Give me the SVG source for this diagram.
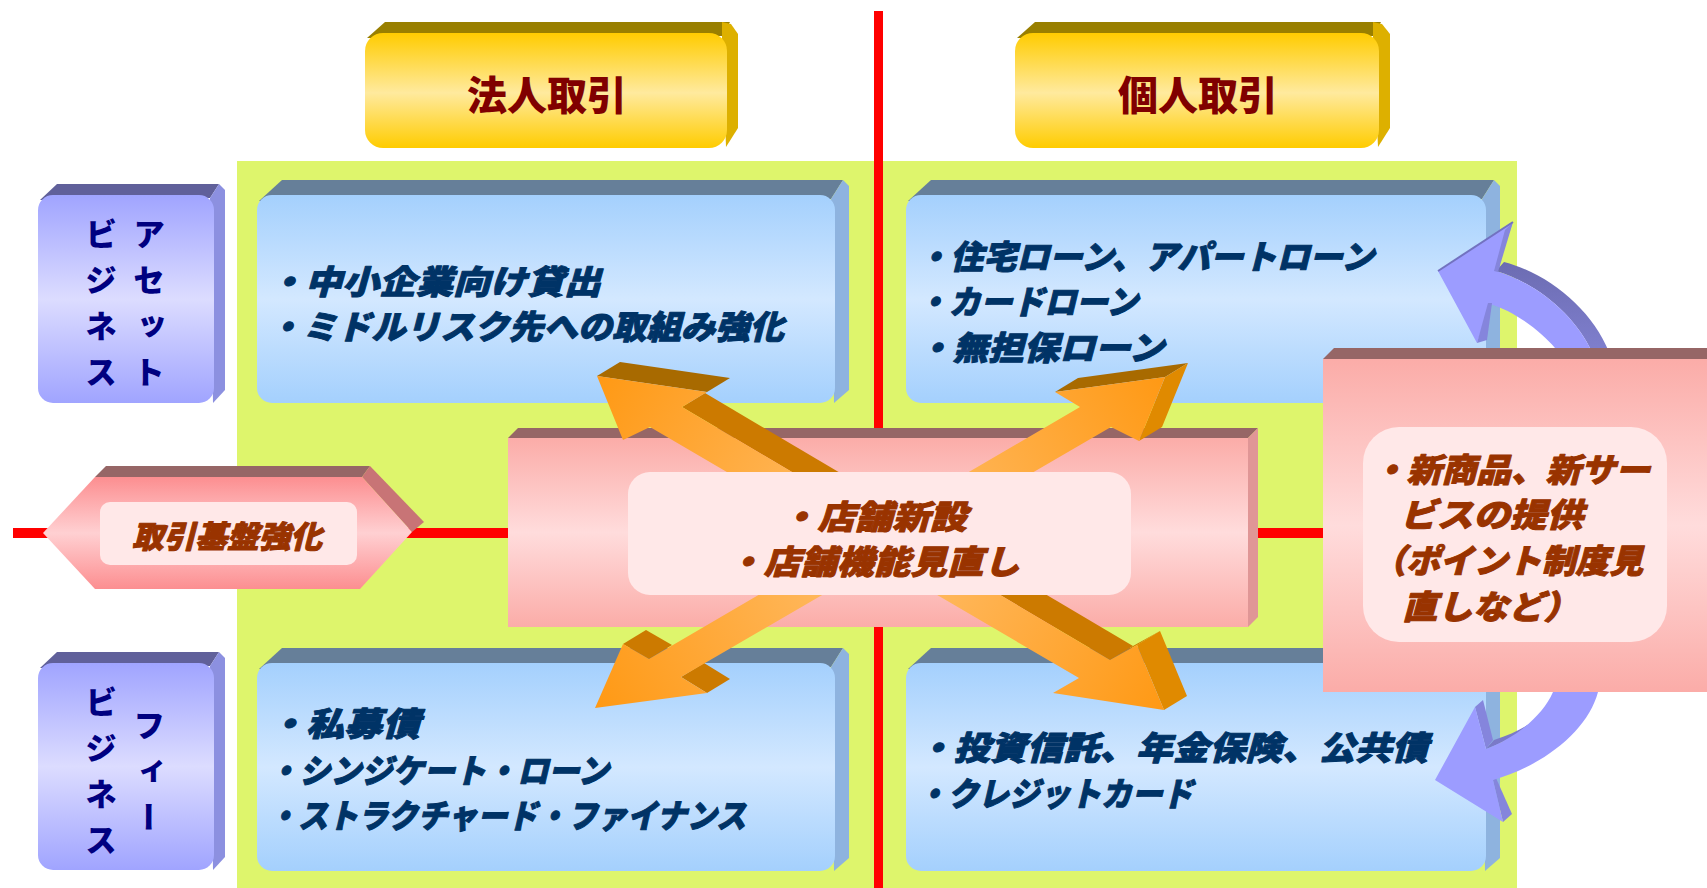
<svg xmlns="http://www.w3.org/2000/svg" width="1707" height="888" viewBox="0 0 1707 888">
<defs>
<linearGradient id="gGold" x1="0" y1="0" x2="0" y2="1"><stop offset="0" stop-color="#FFCC00"/><stop offset="0.52" stop-color="#FFEA9E"/><stop offset="1" stop-color="#FFCC00"/></linearGradient>
<linearGradient id="gBlue" x1="0" y1="0" x2="0" y2="1"><stop offset="0" stop-color="#A4D0FD"/><stop offset="0.5" stop-color="#D3E8FF"/><stop offset="1" stop-color="#A4D0FD"/></linearGradient>
<linearGradient id="gPurple" x1="0" y1="0" x2="0" y2="1"><stop offset="0" stop-color="#A0A4FF"/><stop offset="0.5" stop-color="#DCDCFF"/><stop offset="1" stop-color="#A0A4FF"/></linearGradient>
<linearGradient id="gPink" x1="0" y1="0" x2="0" y2="1"><stop offset="0" stop-color="#FBACA8"/><stop offset="0.5" stop-color="#FFDCDC"/><stop offset="1" stop-color="#FBACA8"/></linearGradient>
<linearGradient id="gHex" x1="0" y1="0" x2="0" y2="1"><stop offset="0" stop-color="#FC8E90"/><stop offset="0.5" stop-color="#FFD0D2"/><stop offset="1" stop-color="#FC8E90"/></linearGradient>
<linearGradient id="gArrowA" gradientUnits="userSpaceOnUse" x1="597" y1="376" x2="1164" y2="710"><stop offset="0" stop-color="#FF9914"/><stop offset="0.5" stop-color="#FFC070"/><stop offset="1" stop-color="#FF9914"/></linearGradient>
<linearGradient id="gArrowB" gradientUnits="userSpaceOnUse" x1="1165" y1="377" x2="595" y2="708"><stop offset="0" stop-color="#FF9914"/><stop offset="0.5" stop-color="#FFC070"/><stop offset="1" stop-color="#FF9914"/></linearGradient>
<linearGradient id="gBand" x1="0" y1="0" x2="0" y2="1"><stop offset="0" stop-color="#6C6CB2"/><stop offset="1" stop-color="#8282D2"/></linearGradient>
<style>
.jp{font-family:'Noto Sans CJK JP','Noto Sans CJK SC',sans-serif;font-weight:900}
.bt{fill:#003366;stroke:#003366;stroke-width:1;stroke-linejoin:round;font-size:33px;font-style:italic}
.rt{fill:#993300;stroke:#993300;stroke-width:1;stroke-linejoin:round;font-size:33px;font-style:italic}
.ht{fill:#800000;font-size:40px;text-anchor:middle}
.vt{fill:#000080;font-size:32px;writing-mode:vertical-rl;letter-spacing:14px}
.topGold{fill:#997F00}.sideGold{fill:#DDB000}
.topBlue{fill:#667F99}.sideBlue{fill:#8EB3DF}
.topPur{fill:#60609A}.sidePur{fill:#8C90E0}
.topPink{fill:#966666}.sidePink{fill:#E09696}
.inner{fill:#FFE8E8}
.darkOr{fill:#A86A00}.midOr{fill:#CC7A00}.lightOr{fill:#E08A00}
.purFront{fill:#9C9CFF}.purSide{fill:#8585DC}
</style>
</defs>

<rect id="background" x="237" y="161" width="1280" height="727" fill="#DEF56C"/>

<g id="connectors-axes" fill="#FF0000">
<rect x="874" y="11" width="9" height="877"/>
<rect x="13" y="528" width="1320" height="10"/>
</g>

<g id="node-corporate">
<polygon class="topGold" points="367,38 385,22 730,22 722,36"/>
<polygon class="sideGold" points="722,38 722,22 731,24 738,34 738,128 726,147"/>
<rect x="365" y="33" width="362" height="115" rx="18" fill="url(#gGold)"/>
<text class="jp ht" x="547" y="110">法人取引</text>
</g>

<g id="node-individual">
<polygon class="topGold" points="1017,38 1035,22 1381,22 1373,36"/>
<polygon class="sideGold" points="1373,38 1373,22 1382,24 1390,34 1390,128 1378,147"/>
<rect x="1015" y="33" width="364" height="115" rx="18" fill="url(#gGold)"/>
<text class="jp ht" x="1198" y="110">個人取引</text>
</g>

<g id="node-asset-business">
<polygon class="topPur" points="40,200 57,184 219,184 210,198"/>
<polygon class="sidePur" points="210,198 219,184 225,190 225,390 213,403"/>
<rect x="38" y="195" width="176" height="208" rx="15" fill="url(#gPurple)"/>
<text class="jp vt" x="149" y="218">アセット</text>
<text class="jp vt" x="101" y="218">ビジネス</text>
</g>

<g id="node-fee-business">
<polygon class="topPur" points="40,668 57,652 219,652 210,666"/>
<polygon class="sidePur" points="210,666 219,652 225,658 225,857 213,870"/>
<rect x="38" y="663" width="176" height="207" rx="15" fill="url(#gPurple)"/>
<text class="jp vt" x="149" y="709">フィー</text>
<text class="jp vt" x="101" y="686">ビジネス</text>
</g>

<g id="node-corporate-asset">
<polygon class="topBlue" points="259,201 282,180 843,180 831,199"/>
<polygon class="sideBlue" points="831,199 843,180 849,186 849,390 834,403"/>
<rect x="257" y="195" width="578" height="208" rx="15" fill="url(#gBlue)"/>
<text class="jp bt"><tspan x="268" y="294" textLength="333" lengthAdjust="spacingAndGlyphs">・中小企業向け貸出</tspan><tspan x="268" y="339" textLength="516" lengthAdjust="spacingAndGlyphs">・ミドルリスク先への取組み強化</tspan></text>
</g>

<g id="node-individual-asset">
<polygon class="topBlue" points="908,201 931,180 1494,180 1482,199"/>
<polygon class="sideBlue" points="1482,199 1494,180 1500,186 1500,390 1485,403"/>
<rect x="906" y="195" width="580" height="208" rx="15" fill="url(#gBlue)"/>
<text class="jp bt"><tspan x="917" y="269" textLength="457" lengthAdjust="spacingAndGlyphs">・住宅ローン、アパートローン</tspan><tspan x="917" y="314" textLength="221" lengthAdjust="spacingAndGlyphs">・カードローン</tspan><tspan x="917" y="360" textLength="247" lengthAdjust="spacingAndGlyphs">・無担保ローン</tspan></text>
</g>

<g id="node-corporate-fee">
<polygon class="topBlue" points="259,669 282,648 843,648 831,667"/>
<polygon class="sideBlue" points="831,667 843,648 849,654 849,858 834,871"/>
<rect x="257" y="663" width="578" height="208" rx="15" fill="url(#gBlue)"/>
<text class="jp bt"><tspan x="268" y="736" textLength="152" lengthAdjust="spacingAndGlyphs">・私募債</tspan><tspan x="268" y="783" textLength="341" lengthAdjust="spacingAndGlyphs">・シンジケート・ローン</tspan><tspan x="268" y="828" textLength="478" lengthAdjust="spacingAndGlyphs">・ストラクチャード・ファイナンス</tspan></text>
</g>

<g id="node-individual-fee">
<polygon class="topBlue" points="908,669 931,648 1494,648 1482,667"/>
<polygon class="sideBlue" points="1482,667 1494,648 1500,654 1500,858 1485,871"/>
<rect x="906" y="663" width="580" height="208" rx="15" fill="url(#gBlue)"/>
<text class="jp bt"><tspan x="917" y="760" textLength="511" lengthAdjust="spacingAndGlyphs">・投資信託、年金保険、公共債</tspan><tspan x="917" y="806" textLength="276" lengthAdjust="spacingAndGlyphs">・クレジットカード</tspan></text>
</g>

<g id="node-base">
<polygon class="topPink" points="95,477 106,466 370,466 362,477"/>
<polygon fill="#C87476" points="362,477 370,466 424,522 412,532"/>
<polygon points="43,533 95,477 362,477 412,532 360,589 95,589" fill="url(#gHex)"/>
<rect class="inner" x="100" y="502" width="257" height="63" rx="10"/>
<text class="jp rt" x="132" y="548" style="font-size:31px" textLength="190" lengthAdjust="spacingAndGlyphs">取引基盤強化</text>
</g>

<g id="node-store">
<polygon class="topPink" points="508,438 518,428 1258,428 1248,438"/>
<polygon class="sidePink" points="1248,438 1258,428 1258,617 1248,627"/>
<rect x="508" y="438" width="740" height="189" fill="url(#gPink)"/>
</g>

<g id="connectors">
<g id="arrow-cross-a">
<polygon class="midOr" points="682,407 1110,660 1133,646 705,393"/>
<polygon class="midOr" points="1110,660 1137,645 1160,631 1133,646"/>
<polygon class="lightOr" points="1137,645 1164,710 1187,696 1160,631"/>
<polygon class="darkOr" points="597,376 707,392 730,378 620,362"/>
<polygon fill="url(#gArrowA)" points="597,376 707,392 682,407 1110,660 1137,645 1164,710 1053,693 1079,678 650,427 623,440"/>
</g>
<g id="arrow-cross-b">
<polygon class="midOr" points="649,659 623,644 646,630 672,645"/>
<polygon class="midOr" points="707,693 681,677 704,663 730,679"/>
<polygon class="darkOr" points="1165,377 1055,392 1078,378 1188,363"/>
<polygon class="lightOr" points="1139,441 1165,377 1188,363 1162,427"/>
<polygon fill="url(#gArrowB)" points="1165,377 1055,392 1080,407 649,659 623,644 595,708 707,693 681,677 1111,427 1139,441"/>
</g>
<g id="arrow-cycle-up">
<path fill="url(#gBand)" d="M1496,271 L1504,262 C1550,274 1592,310 1609,352 L1614,366 L1598,366 L1592,352 C1575,316 1539,284 1496,271 Z"/>
<path class="purFront" d="M1438,271 L1513,222 L1496,271 C1539,284 1575,316 1592,352 L1598,366 L1568,366 L1555,348 C1541,331 1514,311 1490,304 L1477,343 Z"/>
<polygon class="purSide" points="1513,222 1498,272 1494,271 1505,230"/>
<polygon class="purSide" points="1477,343 1487,340 1492,303 1488,303"/>
<polyline points="1438,271 1513,222" fill="none" stroke="#7272C0" stroke-width="2"/>
</g>
<g id="arrow-cycle-down">
<polygon class="purSide" points="1475,707 1483,700 1493,740 1486,749"/>
<polygon class="purSide" points="1493,780 1496,778 1512,814 1503,822"/>
<path fill="#7A7AC8" d="M1486,749 L1494,740 C1515,733 1530,725 1541,715 L1546,711 C1535,724 1515,738 1486,749 Z"/>
<path class="purFront" d="M1435,780 L1475,707 L1486,749 C1515,738 1542,717 1553,692 L1558,680 L1604,680 L1598,692 C1588,730 1545,765 1493,780 L1503,822 Z"/>
</g>
</g>

<g id="node-store-label">
<rect class="inner" x="628" y="472" width="503" height="123" rx="22"/>
<text class="jp rt"><tspan x="780" y="529" textLength="187" lengthAdjust="spacingAndGlyphs">・店舗新設</tspan><tspan x="727" y="574" textLength="293" lengthAdjust="spacingAndGlyphs">・店舗機能見直し</tspan></text>
</g>

<g id="node-new-products">
<polygon class="topPink" points="1323,359 1334,348 1710,348 1710,359"/>
<rect x="1323" y="359" width="390" height="333" fill="url(#gPink)"/>
<rect class="inner" x="1363" y="427" width="304" height="215" rx="36"/>
<text class="jp rt"><tspan x="1372" y="482" textLength="278" lengthAdjust="spacingAndGlyphs">・新商品、新サー</tspan><tspan x="1400" y="527" textLength="183" lengthAdjust="spacingAndGlyphs">ビスの提供</tspan><tspan x="1372" y="573" textLength="271" lengthAdjust="spacingAndGlyphs">（ポイント制度見</tspan><tspan x="1402" y="619" textLength="177" lengthAdjust="spacingAndGlyphs">直しなど）</tspan></text>
</g>
</svg>
